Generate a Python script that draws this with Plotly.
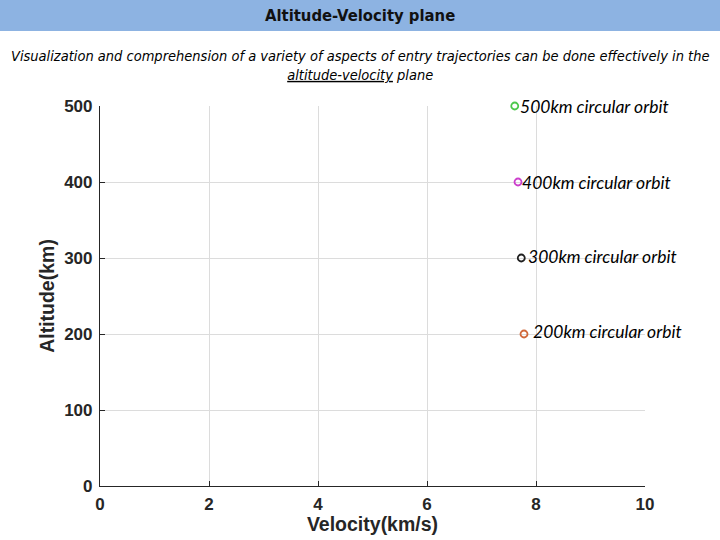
import plotly.graph_objects as go

# Data
orbit_labels = ["500km circular orbit", "400km circular orbit", "300km circular orbit", "200km circular orbit"]
altitudes_km = [500, 400, 300, 200]
velocities_kms = [7.61, 7.67, 7.73, 7.78]
marker_colors = ["#4cc84c", "#cc3fcc", "#202020", "#d0683a"]
x_ticks = [0, 2, 4, 6, 8, 10]
y_ticks = [0, 100, 200, 300, 400, 500]

# style
label_xshift = [3, 2, 5, 7]
label_yshift = [0, 0, 2, 3]

W, H = 720, 540
ML, MR, MT, MB = 100, 75, 106, 54
pw, ph = W - ML - MR, H - MT - MB

fig = go.Figure()
for v, a, c in zip(velocities_kms, altitudes_km, marker_colors):
    fig.add_trace(go.Scatter(
        x=[v], y=[a], mode="markers",
        marker=dict(symbol="circle-open", size=7, color=c, line=dict(width=1.8, color=c)),
        showlegend=False, cliponaxis=False, hoverinfo="skip",
    ))

annotations = []
for v, a, t, xs, ys in zip(velocities_kms, altitudes_km, orbit_labels, label_xshift, label_yshift):
    annotations.append(dict(
        x=v, y=a, xref="x", yref="y", text="<i>" + t + "</i>", showarrow=False,
        xanchor="left", yanchor="middle", xshift=xs, yshift=ys,
        font=dict(family="Lato, Open Sans, sans-serif", size=17.5, color="#000000"),
    ))

def py(px):
    return (H - MB - px) / ph

def pxx(px):
    return (px - ML) / pw

annotations.append(dict(
    x=pxx(360), y=py(16), xref="paper", yref="paper", showarrow=False,
    text="<b>Altitude-Velocity plane</b>", xanchor="center", yanchor="middle",
    font=dict(family="Liberation Sans Narrow, DejaVu Sans Condensed, sans-serif", size=16.5, color="#111111"),
))
annotations.append(dict(
    x=pxx(360), y=py(65), xref="paper", yref="paper", showarrow=False,
    text="<i>Visualization and comprehension of a variety of aspects of entry trajectories can be done effectively in the<br>"
         "<span style='text-decoration:underline'>altitude-velocity</span> plane</i>",
    xanchor="center", yanchor="middle", align="center",
    font=dict(family="Liberation Sans Narrow, DejaVu Sans Condensed, sans-serif", size=14.5, color="#000000"),
))

shapes = [dict(
    type="rect", xref="paper", yref="paper",
    x0=pxx(0), x1=pxx(W), y0=py(31), y1=py(0),
    fillcolor="#8db3e2", line=dict(width=0), layer="below",
)]

axis_font = dict(family="Arial, Liberation Sans, sans-serif", size=17, color="#262626")
title_font = dict(family="Arial, Liberation Sans, sans-serif", size=19.5, color="#262626")
fig.update_layout(
    width=W, height=H,
    margin=dict(l=ML, r=MR, t=MT, b=MB),
    paper_bgcolor="white", plot_bgcolor="white",
    annotations=annotations, shapes=shapes,
    xaxis=dict(
        range=[0, 10], tickvals=x_ticks, ticktext=[f"<b>{t}</b>" for t in x_ticks],
        showgrid=True, gridcolor="#dcdcdc", gridwidth=1,
        showline=True, linecolor="#262626", linewidth=1.2,
        ticks="inside", ticklen=5, tickcolor="#262626", zeroline=False,
        tickfont=axis_font, ticklabelstandoff=2,
        title=dict(text="<b>Velocity(km/s)</b>", font=title_font, standoff=1),
    ),
    yaxis=dict(
        range=[0, 500], tickvals=y_ticks, ticktext=[f"<b>{t}</b>" for t in y_ticks],
        showgrid=True, gridcolor="#dcdcdc", gridwidth=1,
        showline=True, linecolor="#262626", linewidth=1.2,
        ticks="inside", ticklen=5, tickcolor="#262626", zeroline=False,
        tickfont=axis_font, ticklabelstandoff=3,
        title=dict(text="<b>Altitude(km)</b>", font=title_font, standoff=4),
    ),
)

fig.write_html("out.html", config={"displayModeBar": False},
               post_script="document.body.style.margin='0px';")
